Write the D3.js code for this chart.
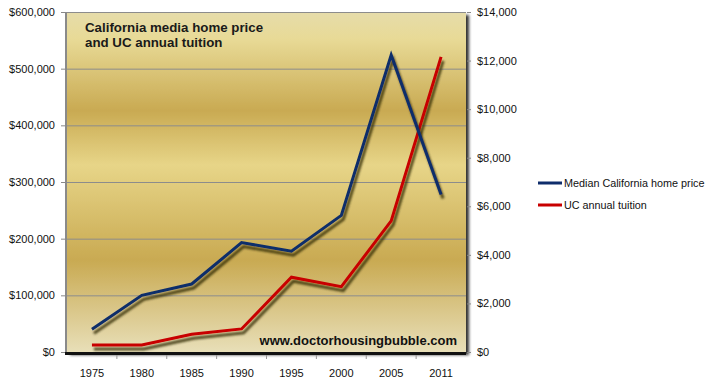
<!DOCTYPE html>
<html><head><meta charset="utf-8">
<script src="https://cdn.jsdelivr.net/npm/d3@7"></script>
<style>
html,body{margin:0;padding:0;background:#fff;}
svg{display:block;font-family:"Liberation Sans",Arial,sans-serif;}
</style></head>
<body><svg id="c" width="715" height="380"></svg>
<script>
const years = ["1975","1980","1985","1990","1995","2000","2005","2011"];
const homePrice = [40000,100000,120000,193000,178000,241000,524000,278000];
const tuition = [290,290,730,950,3080,2690,5400,12150];
const leftTicks = [0,100000,200000,300000,400000,500000,600000];
const rightTicks = [0,2000,4000,6000,8000,10000,12000,14000];
const seriesNames = ["Median California home price","UC annual tuition"];
const seriesColors = ["#0f2d6b","#c80000"];
const titleLines = ["California media home price","and UC annual tuition"];
const watermark = "www.doctorhousingbubble.com";

const svg = d3.select("#c");
const L = 67, R = 466, T = 12, B = 352;

const x = d3.scaleBand().domain(years).range([L, R]);
const yL = d3.scaleLinear().domain([0,600000]).range([B, T]);
const yR = d3.scaleLinear().domain([0,14000]).range([B, T]);

const defs = svg.append("defs");
const g = defs.append("linearGradient").attr("id","bg").attr("x1",0).attr("y1",0).attr("x2",0).attr("y2",1);
[[0,"#e6dcaa"],[0.08,"#e8da96"],[0.29,"#c9aa52"],[0.45,"#e7d588"],[0.73,"#c9aa52"],[1,"#e8dfb8"]]
  .forEach(([o,c])=>g.append("stop").attr("offset",o).attr("stop-color",c));
const f = defs.append("filter").attr("id","sh").attr("x","-10%").attr("y","-10%").attr("width","130%").attr("height","130%");
f.append("feDropShadow").attr("dx",2).attr("dy",4).attr("stdDeviation",1.3).attr("flood-color","#2b2500").attr("flood-opacity",0.8);
const f2 = defs.append("filter").attr("id","psh").attr("x","-5%").attr("y","-5%").attr("width","115%").attr("height","115%");
f2.append("feDropShadow").attr("dx",3).attr("dy",3).attr("stdDeviation",1.5).attr("flood-color","#000").attr("flood-opacity",0.8);

// plot area
svg.append("rect").attr("x",L).attr("y",T).attr("width",R-L).attr("height",B-T)
  .attr("fill","url(#bg)").attr("filter","url(#psh)");
// left wall edge
svg.append("line").attr("x1",L-1).attr("x2",L-1).attr("y1",T).attr("y2",B)
  .attr("stroke","#8a8a8a").attr("stroke-width",2);

// gridlines
svg.append("g").selectAll("line").data(leftTicks.filter(d=>d>0)).join("line")
  .attr("x1",L).attr("x2",R).attr("y1",d=>yL(d)+0.5).attr("y2",d=>yL(d)+0.5)
  .attr("stroke","#8c8c8c").attr("stroke-width",1);

// axes
const axL = svg.append("g").attr("transform",`translate(${L-2},0)`)
  .call(d3.axisLeft(yL).tickValues(leftTicks).tickSize(4).tickPadding(6).tickFormat(d=>"$"+d3.format(",")(d)));
const axR = svg.append("g").attr("transform",`translate(${R+1},0)`)
  .call(d3.axisRight(yR).tickValues(rightTicks).tickSize(4).tickPadding(6).tickFormat(d=>"$"+d3.format(",")(d)));
[axL,axR].forEach(a=>{
  a.select(".domain").remove();
  a.selectAll(".tick line").attr("stroke","#888");
  a.selectAll("text").attr("font-size",11).attr("fill","#111").attr("font-family","Liberation Sans, Arial, sans-serif");
});
// bottom axis
const axB = svg.append("g").attr("transform",`translate(0,${B})`)
  .call(d3.axisBottom(x).tickSize(0).tickPadding(17));
axB.select(".domain").remove();
axB.selectAll("text").attr("font-size",11).attr("fill","#111").attr("font-family","Liberation Sans, Arial, sans-serif");
svg.append("line").attr("x1",L-2).attr("x2",R).attr("y1",B+1.5).attr("y2",B+1.5).attr("stroke","#111").attr("stroke-width",3);
svg.append("g").selectAll("line").data(years.slice(1)).join("line")
  .attr("x1",d=>x(d)).attr("x2",d=>x(d)).attr("y1",B+3).attr("y2",B+7)
  .attr("stroke","#999");

// title & watermark
svg.append("g").selectAll("text").data(titleLines).join("text")
  .attr("x",85).attr("y",(d,i)=>32+i*15).attr("font-size",13.3).attr("font-weight","bold").attr("fill","#1a1a1a").text(d=>d);
svg.append("text").attr("x",457).attr("y",345).attr("text-anchor","end")
  .attr("font-size",13).attr("font-weight","bold").attr("fill","#111").text(watermark);

// lines
const cx = d=>x(d)+x.bandwidth()/2;
const lineL = d3.line().x((d,i)=>cx(years[i])).y(d=>yL(d));
const lineR = d3.line().x((d,i)=>cx(years[i])).y(d=>yR(d));
svg.append("path").datum(tuition).attr("d",lineR).attr("fill","none")
  .attr("stroke",seriesColors[1]).attr("stroke-width",3).attr("stroke-linejoin","miter").attr("filter","url(#sh)");
svg.append("path").datum(homePrice).attr("d",lineL).attr("fill","none")
  .attr("stroke",seriesColors[0]).attr("stroke-width",3).attr("stroke-linejoin","miter").attr("filter","url(#sh)");

// legend
const lg = svg.append("g").selectAll("g").data(seriesNames).join("g")
  .attr("transform",(d,i)=>`translate(538,${183+i*22})`);
lg.append("line").attr("x1",0).attr("x2",24).attr("stroke",(d,i)=>seriesColors[i]).attr("stroke-width",3);
lg.append("text").attr("x",26).attr("y",4).attr("font-size",10.8).attr("fill","#111").text(d=>d);
</script></body></html>
